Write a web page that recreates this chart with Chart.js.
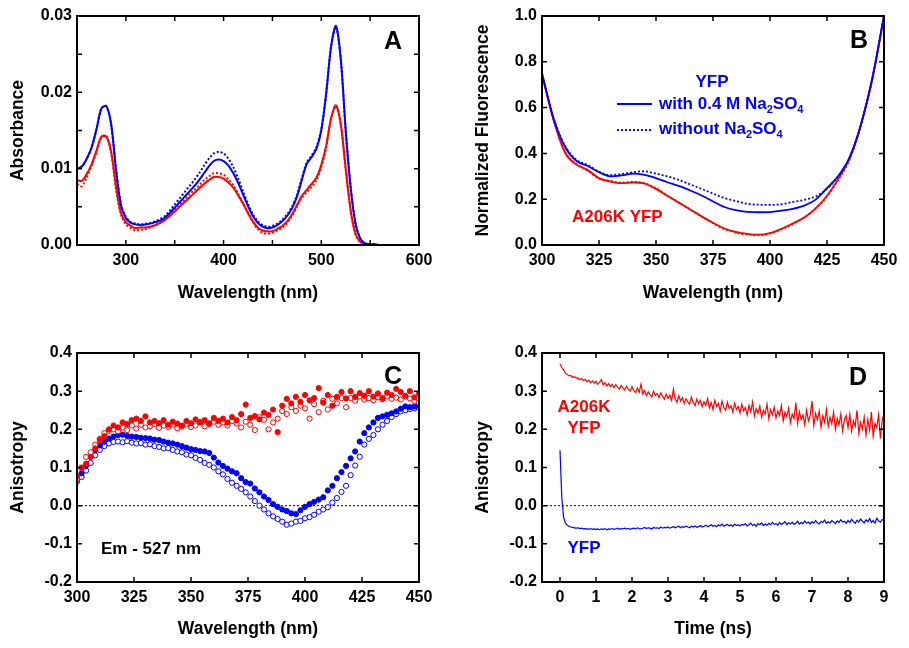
<!DOCTYPE html>
<html>
<head>
<meta charset="utf-8">
<script src="https://cdn.jsdelivr.net/npm/chart.js@4.4.0/dist/chart.umd.min.js"></script>
<style>
  body { margin: 0; background: #fff; }
  #wrap { position: relative; width: 909px; height: 648px; background: #fff; }
  canvas { position: absolute; }
</style>
</head>
<body>
<div id="wrap">
  <canvas id="chartA" width="460" height="310" style="left:0;top:0"></canvas>
  <canvas id="chartB" width="449" height="310" style="left:460px;top:0"></canvas>
  <canvas id="chartC" width="460" height="338" style="left:0;top:310px"></canvas>
  <canvas id="chartD" width="449" height="338" style="left:460px;top:310px"></canvas>
</div>
<script>
// ---- panel A: absorbance ----
const aWavelength = [250,255,260,265,270,275,280,285,290,295,300,305,310,315,320,325,330,335,340,345,
  350,355,360,365,370,375,380,385,390,395,400,405,410,415,420,425,430,435,440,445,
  450,455,460,465,470,475,480,485,490,495,500,505,510,515,520,525,530,535,540,545,
  550,555,560,565,570,575,580,585,590,595,600];
const aYfpSalt = [.0100,.0103,.0113,.0128,.0152,.0179,.0182,.0158,.0098,.0052,.0035,.0029,.0027,.0026,.0027,.0028,.0030,.0032,.0036,.0042,
  .0049,.0056,.0063,.0070,.0077,.0085,.0094,.0103,.0110,.0112,.0110,.0104,.0094,.0081,.0066,.0051,.0038,.0029,.0024,.0022,
  .0023,.0026,.0031,.0038,.0048,.0063,.0085,.0106,.0115,.0126,.0150,.0198,.0260,.0287,.0243,.0150,.0076,.0028,.0008,.0002,
  .0001,.0001,0,0,0,0,0,0,0,0,0];
const aYfp = [.0100,.0103,.0113,.0128,.0152,.0179,.0182,.0157,.0098,.0054,.0037,.0030,.0028,.0027,.0028,.0029,.0031,.0034,.0038,.0045,
  .0053,.0061,.0069,.0077,.0085,.0094,.0104,.0113,.0120,.0122,.0120,.0113,.0102,.0087,.0070,.0054,.0040,.0031,.0026,.0024,
  .0025,.0028,.0033,.0040,.0050,.0065,.0087,.0108,.0117,.0128,.0152,.0199,.0260,.0286,.0242,.0150,.0077,.0029,.0009,.0002,
  .0001,.0001,0,0,0,0,0,0,0,0,0];
const aA206kSalt = [.0085,.0084,.0093,.0106,.0124,.0142,.0142,.0122,.0076,.0042,.0030,.0025,.0022,.0023,.0023,.0024,.0026,.0029,.0033,.0038,
  .0044,.0050,.0056,.0062,.0068,.0074,.0080,.0085,.0089,.0089,.0087,.0082,.0075,.0065,.0054,.0042,.0031,.0023,.0019,.0018,
  .0018,.0021,.0025,.0031,.0040,.0052,.0064,.0072,.0080,.0088,.0105,.0130,.0166,.0183,.0158,.0100,.0046,.0015,.0004,.0001,
  0,0,0,0,0,0,0,0,0,0,0];
const aA206k = [.0080,.0077,.0089,.0104,.0122,.0141,.0143,.0120,.0072,.0040,.0027,.0022,.0019,.0020,.0021,.0023,.0026,.0029,.0034,.0040,
  .0046,.0053,.0059,.0066,.0072,.0078,.0085,.0090,.0094,.0094,.0092,.0086,.0078,.0067,.0055,.0042,.0030,.0021,.0016,.0015,
  .0016,.0019,.0023,.0029,.0038,.0050,.0062,.0069,.0076,.0085,.0102,.0128,.0165,.0182,.0157,.0099,.0045,.0014,.0003,.0001,
  0,0,0,0,0,0,0,0,0,0,0];
const aXTicks = [250,300,350,400,450,500,550,600];
const aXLabels = ['','300','','400','','500','','600'];
const aYTicks = [0,0.005,0.01,0.015,0.02,0.025,0.03];
const aYLabels = ['0.00','','0.01','','0.02','','0.03'];

// ---- panel B: normalized fluorescence ----
const bWavelength = [300,305,310,315,320,325,330,335,340,345,350,355,360,365,370,375,380,385,390,395,
  400,405,410,415,420,425,430,435,440,445,450];
const bYfpSalt = [0.750,0.555,0.430,0.368,0.345,0.318,0.300,0.304,0.312,0.306,0.292,0.274,0.258,0.238,0.216,0.190,0.166,0.152,0.145,0.143,
  0.144,0.150,0.158,0.172,0.198,0.248,0.302,0.385,0.530,0.735,1.000];
const bYfp = [0.750,0.558,0.435,0.372,0.350,0.320,0.305,0.310,0.318,0.322,0.312,0.300,0.284,0.265,0.245,0.225,0.205,0.192,0.180,0.176,
  0.175,0.178,0.188,0.197,0.212,0.245,0.302,0.385,0.530,0.735,1.000];
const bA206kSalt = [0.742,0.548,0.405,0.352,0.328,0.292,0.277,0.270,0.273,0.268,0.245,0.215,0.185,0.155,0.125,0.097,0.072,0.057,0.049,0.045,
  0.052,0.071,0.094,0.120,0.160,0.215,0.290,0.380,0.530,0.730,1.000];
const bA206k = [0.742,0.550,0.410,0.355,0.325,0.290,0.280,0.272,0.276,0.270,0.248,0.216,0.186,0.155,0.124,0.095,0.070,0.054,0.046,0.043,
  0.050,0.068,0.092,0.120,0.160,0.212,0.285,0.375,0.525,0.728,1.000];
const bXTicks = [300,325,350,375,400,425,450];
const bXLabels = ['300','325','350','375','400','425','450'];
const bYTicks = [0,0.2,0.4,0.6,0.8,1.0];
const bYLabels = ['0.0','0.2','0.4','0.6','0.8','1.0'];

// ---- panel C: excitation anisotropy ----
const cWavelength = [300,302,304,306,308,310,312,314,316,318,320,322,324,326,328,330,332,334,336,338,
  340,342,344,346,348,350,352,354,356,358,360,362,364,366,368,370,372,374,376,378,
  380,382,384,386,388,390,392,394,396,398,400,402,404,406,408,410,412,414,416,418,
  420,422,424,426,428,430,432,434,436,438,440,442,444,446,448,450];
const cYfpFilled = [0.068,0.085,0.105,0.128,0.145,0.158,0.168,0.176,0.181,0.185,0.186,0.183,0.181,0.180,0.178,0.177,0.176,0.173,0.172,0.168,
  0.165,0.163,0.160,0.156,0.152,0.148,0.146,0.143,0.142,0.138,0.126,0.113,0.104,0.097,0.090,0.085,0.072,0.062,0.058,0.045,
  0.035,0.024,0.015,0.004,-0.003,-0.010,-0.014,-0.020,-0.022,-0.012,-0.003,0.004,0.010,0.016,0.022,0.040,0.052,0.072,0.088,0.104,
  0.124,0.142,0.168,0.190,0.205,0.218,0.230,0.234,0.238,0.242,0.247,0.254,0.260,0.258,0.260,0.262];
const cYfpOpen = [0.063,0.075,0.092,0.112,0.132,0.146,0.156,0.163,0.167,0.168,0.166,0.169,0.165,0.163,0.164,0.160,0.161,0.156,0.154,0.150,
  0.151,0.146,0.142,0.140,0.134,0.132,0.125,0.120,0.112,0.107,0.100,0.090,0.082,0.070,0.060,0.052,0.044,0.035,0.024,0.012,
  0.000,-0.010,-0.020,-0.028,-0.035,-0.042,-0.050,-0.047,-0.042,-0.040,-0.033,-0.030,-0.024,-0.016,-0.010,-0.004,0.008,0.020,0.036,0.052,
  0.080,0.105,0.128,0.160,0.175,0.185,0.200,0.212,0.222,0.232,0.240,0.247,0.250,0.253,0.255,0.258];
const cA206kFilled = [0.076,0.100,0.110,0.128,0.150,0.172,0.182,0.200,0.210,0.205,0.218,0.214,0.224,0.228,0.222,0.234,0.218,0.222,0.216,0.224,
  0.212,0.220,0.215,0.210,0.222,0.216,0.226,0.219,0.224,0.216,0.230,0.222,0.228,0.218,0.232,0.224,0.240,0.265,0.230,0.235,
  0.226,0.244,0.238,0.252,0.193,0.262,0.280,0.268,0.285,0.272,0.290,0.276,0.282,0.308,0.270,0.290,0.262,0.285,0.298,0.281,
  0.300,0.285,0.295,0.288,0.300,0.286,0.294,0.282,0.296,0.290,0.306,0.298,0.288,0.300,0.284,0.294];
const cA206kOpen = [0.070,0.098,0.128,0.140,0.160,0.175,0.190,0.196,0.200,0.195,0.205,0.198,0.210,0.202,0.212,0.205,0.208,0.214,0.204,0.210,
  0.206,0.212,0.203,0.208,0.215,0.206,0.210,0.218,0.208,0.214,0.220,0.212,0.218,0.210,0.222,0.215,0.205,0.220,0.212,0.198,
  0.232,0.225,0.200,0.218,0.228,0.248,0.240,0.258,0.248,0.262,0.255,0.228,0.266,0.245,0.275,0.252,0.280,0.268,0.282,0.258,
  0.282,0.275,0.286,0.278,0.282,0.276,0.284,0.279,0.286,0.280,0.283,0.278,0.286,0.281,0.274,0.270];
const cXTicks = [300,325,350,375,400,425,450];
const cXLabels = ['300','325','350','375','400','425','450'];
const cYTicks = [-0.2,-0.1,0,0.1,0.2,0.3,0.4];
const cYLabels = ['-0.2','-0.1','0.0','0.1','0.2','0.3','0.4'];

// ---- panel D: time-resolved anisotropy (sampled every 0.05 ns) ----
const dTime = Array.from({ length: 181 }, (_, i) => +(i * 0.05).toFixed(2));
const dA206k = [
  0.372,0.362,0.355,0.348,0.344,0.340,0.341,0.336,0.338,0.334,0.335,0.330,0.333,0.328,0.331,0.325,0.329,0.322,0.327,0.321,
  0.326,0.318,0.323,0.330,0.316,0.322,0.314,0.320,0.312,0.318,0.309,0.317,0.311,0.306,0.315,0.308,0.303,0.313,0.305,0.300,
  0.312,0.301,0.296,0.308,0.297,0.318,0.293,0.302,0.288,0.298,0.291,0.285,0.300,0.289,0.294,0.283,0.296,0.286,0.279,0.292,
  0.281,0.290,0.276,0.305,0.279,0.271,0.288,0.274,0.283,0.268,0.280,0.272,0.266,0.285,0.270,0.262,0.279,0.267,0.276,0.259,
  0.272,0.263,0.281,0.256,0.270,0.252,0.276,0.260,0.268,0.248,0.274,0.258,0.250,0.271,0.255,0.262,0.245,0.268,0.252,0.260,
  0.243,0.266,0.248,0.257,0.238,0.263,0.246,0.272,0.235,0.254,0.242,0.261,0.232,0.250,0.240,0.266,0.228,0.252,0.238,0.258,
  0.230,0.248,0.236,0.262,0.222,0.245,0.233,0.255,0.218,0.240,0.228,0.270,0.215,0.246,0.226,0.238,0.212,0.250,0.222,0.236,
  0.274,0.210,0.242,0.225,0.248,0.205,0.236,0.218,0.252,0.208,0.232,0.215,0.245,0.200,0.228,0.212,0.240,0.196,0.225,0.236,
  0.205,0.240,0.195,0.222,0.208,0.250,0.190,0.218,0.200,0.232,0.185,0.226,0.198,0.245,0.182,0.215,0.205,0.238,0.176,0.222,
  0.244];
const dYfp = [
  0.145,0.020,-0.030,-0.045,-0.051,-0.054,-0.056,-0.057,-0.058,-0.059,-0.058,-0.060,-0.059,-0.061,-0.060,-0.061,-0.062,-0.060,-0.062,-0.061,
  -0.062,-0.061,-0.063,-0.061,-0.062,-0.060,-0.063,-0.061,-0.062,-0.060,-0.062,-0.061,-0.059,-0.062,-0.060,-0.061,-0.059,-0.061,-0.060,-0.062,
  -0.060,-0.059,-0.061,-0.058,-0.060,-0.061,-0.059,-0.057,-0.060,-0.058,-0.059,-0.061,-0.057,-0.059,-0.058,-0.060,-0.056,-0.059,-0.057,-0.058,
  -0.056,-0.059,-0.057,-0.055,-0.058,-0.056,-0.054,-0.058,-0.055,-0.057,-0.053,-0.056,-0.058,-0.054,-0.056,-0.053,-0.057,-0.055,-0.052,-0.056,
  -0.054,-0.051,-0.055,-0.053,-0.050,-0.054,-0.052,-0.055,-0.050,-0.053,-0.048,-0.054,-0.051,-0.049,-0.053,-0.050,-0.054,-0.048,-0.052,-0.050,
  -0.053,-0.049,-0.051,-0.047,-0.053,-0.050,-0.046,-0.052,-0.049,-0.054,-0.047,-0.050,-0.045,-0.052,-0.048,-0.051,-0.046,-0.050,-0.044,-0.049,
  -0.047,-0.051,-0.044,-0.049,-0.046,-0.042,-0.050,-0.045,-0.048,-0.043,-0.049,-0.046,-0.041,-0.048,-0.044,-0.047,-0.040,-0.046,-0.043,-0.048,
  -0.042,-0.046,-0.039,-0.045,-0.048,-0.041,-0.044,-0.038,-0.046,-0.042,-0.045,-0.039,-0.043,-0.047,-0.040,-0.044,-0.037,-0.043,-0.041,-0.046,
  -0.039,-0.044,-0.036,-0.042,-0.046,-0.038,-0.043,-0.035,-0.041,-0.045,-0.037,-0.042,-0.034,-0.044,-0.039,-0.046,-0.033,-0.040,-0.043,-0.036,
  -0.038];
const dXTicks = [0,1,2,3,4,5,6,7,8,9];
const dXLabels = ['0','1','2','3','4','5','6','7','8','9'];
const dYTicks = cYTicks;
const dYLabels = cYLabels;

const BLUE = '#0000ff';
const RED = '#ff0000';
const FONT = '"Liberation Sans", Arial, Helvetica, sans-serif';

// texts drawn inside each panel (canvas coordinates)
const notes = {
  chartA: [
    { text: 'A', x: 393, y: 42, size: 25, color: '#000', align: 'center' }
  ],
  chartB: [
    { text: 'B', x: 399, y: 41, size: 25, color: '#000', align: 'center' },
    { text: 'YFP', x: 252, y: 82, size: 17, color: BLUE, align: 'center' },
    { parts: [{ t: 'with 0.4 M Na' }, { t: '2', sub: true }, { t: 'SO' }, { t: '4', sub: true }], x: 199, y: 104, size: 17, color: BLUE },
    { parts: [{ t: 'without Na' }, { t: '2', sub: true }, { t: 'SO' }, { t: '4', sub: true }], x: 199, y: 129, size: 17, color: BLUE },
    { line: true, x1: 157, x2: 192, y: 104, color: BLUE, dash: [] },
    { line: true, x1: 157, x2: 192, y: 130, color: BLUE, dash: [2, 2] },
    { text: 'A206K YFP', x: 112, y: 217, size: 17, color: RED }
  ],
  chartC: [
    { text: 'C', x: 393, y: 67, size: 25, color: '#000', align: 'center' },
    { text: 'Em - 527 nm', x: 101, y: 239, size: 17, color: '#000' }
  ],
  chartD: [
    { text: 'D', x: 398, y: 68, size: 25, color: '#000', align: 'center' },
    { text: 'A206K', x: 124, y: 97, size: 17, color: RED, align: 'center' },
    { text: 'YFP', x: 124, y: 118, size: 17, color: RED, align: 'center' },
    { text: 'YFP', x: 124, y: 238, size: 17, color: BLUE, align: 'center' }
  ]
};

function drawNote(ctx, n) {
  if (n.line) {
    ctx.strokeStyle = n.color;
    ctx.lineWidth = 2;
    ctx.setLineDash(n.dash);
    ctx.beginPath();
    ctx.moveTo(n.x1, n.y);
    ctx.lineTo(n.x2, n.y);
    ctx.stroke();
    ctx.setLineDash([]);
    return;
  }
  const parts = n.parts || [{ t: n.text }];
  const fontOf = p => 'bold ' + (p.sub ? Math.round(n.size * 0.65) : n.size) + 'px ' + FONT;
  let w = 0;
  parts.forEach(p => { ctx.font = fontOf(p); w += ctx.measureText(p.t).width; });
  let x = n.align === 'center' ? n.x - w / 2 : n.x;
  ctx.fillStyle = n.color;
  ctx.textAlign = 'left';
  ctx.textBaseline = 'middle';
  parts.forEach(p => {
    ctx.font = fontOf(p);
    ctx.fillText(p.t, x, p.sub ? n.y + n.size * 0.33 : n.y);
    x += ctx.measureText(p.t).width;
  });
}

// frame with inward ticks on all four sides + panel texts
const framePlugin = {
  id: 'frame',
  afterDraw(chart) {
    const { ctx, chartArea: a, scales: { x, y } } = chart;
    const len = 5;
    ctx.save();
    ctx.strokeStyle = '#000';
    ctx.lineWidth = 1.5;
    ctx.beginPath();
    x.ticks.forEach(t => {
      const p = x.getPixelForValue(t.value);
      ctx.moveTo(p, a.bottom); ctx.lineTo(p, a.bottom - len);
      ctx.moveTo(p, a.top); ctx.lineTo(p, a.top + len);
    });
    y.ticks.forEach(t => {
      const p = y.getPixelForValue(t.value);
      ctx.moveTo(a.left, p); ctx.lineTo(a.left + len, p);
      ctx.moveTo(a.right, p); ctx.lineTo(a.right - len, p);
    });
    ctx.stroke();
    ctx.lineWidth = 2;
    ctx.strokeRect(a.left, a.top, a.right - a.left, a.bottom - a.top);
    (notes[chart.canvas.id] || []).forEach(n => drawNote(ctx, n));
    ctx.restore();
  }
};

const pts = (xs, ys) => xs.map((v, i) => ({ x: v, y: ys[i] }));

// smooth: 'monotone', a tension number, or false
function curve(xs, ys, color, dotted, width, smooth) {
  return {
    data: pts(xs, ys),
    showLine: true,
    borderColor: color,
    borderWidth: width,
    borderDash: dotted ? [2, 2] : [],
    pointRadius: 0,
    cubicInterpolationMode: smooth === 'monotone' ? 'monotone' : 'default',
    tension: typeof smooth === 'number' ? smooth : 0
  };
}

function dots(xs, ys, color, open) {
  return {
    data: pts(xs, ys),
    showLine: false,
    pointRadius: 2.6,
    pointBorderWidth: 1,
    pointBorderColor: color,
    pointBackgroundColor: open ? '#fff' : color
  };
}

function zeroLine(xMin, xMax) {
  return {
    data: [{ x: xMin, y: 0 }, { x: xMax, y: 0 }],
    showLine: true,
    borderColor: '#000',
    borderWidth: 1,
    borderDash: [2, 2],
    pointRadius: 0
  };
}

function makeChart(id, cfg) {
  const canvas = document.getElementById(id);
  const W = canvas.width, H = canvas.height, a = cfg.area;
  const tickFont = { family: FONT, size: 16, weight: 'bold' };
  const titleFont = { family: FONT, size: 17.5, weight: 'bold' };
  return new Chart(canvas, {
    type: 'scatter',
    data: { datasets: cfg.datasets },
    options: {
      responsive: false,
      animation: false,
      devicePixelRatio: 1,
      layout: { padding: { top: a.top, right: W - a.right, left: 0, bottom: 0 } },
      plugins: { legend: { display: false }, tooltip: { enabled: false } },
      scales: {
        x: {
          type: 'linear',
          min: cfg.xMin, max: cfg.xMax,
          afterFit: s => { s.height = H - a.bottom; },
          afterBuildTicks: s => { s.ticks = cfg.xTicks.map(v => ({ value: v })); },
          ticks: { callback: (v, i) => cfg.xLabels[i], autoSkip: false, maxRotation: 0, padding: 6, color: '#000', font: tickFont },
          grid: { display: false, drawTicks: false },
          border: { display: false },
          title: { display: true, text: cfg.xTitle, color: '#000', font: titleFont, padding: { top: 0, bottom: H - cfg.xTitleY - 10.5 } }
        },
        y: {
          type: 'linear',
          min: cfg.yMin, max: cfg.yMax,
          afterFit: s => { s.width = a.left; },
          afterBuildTicks: s => { s.ticks = cfg.yTicks.map(v => ({ value: v })); },
          ticks: { callback: (v, i) => cfg.yLabels[i], autoSkip: false, padding: 5, color: '#000', font: tickFont },
          grid: { display: false, drawTicks: false },
          border: { display: false },
          title: { display: true, text: cfg.yTitle, color: '#000', font: titleFont, padding: { top: cfg.yTitleX - 10.5, bottom: 0 } }
        }
      }
    },
    plugins: [framePlugin]
  });
}

makeChart('chartA', {
  area: { left: 77, top: 16, right: 419, bottom: 245 },
  xMin: 250, xMax: 600, yMin: 0, yMax: 0.03,
  xTicks: aXTicks, xLabels: aXLabels, yTicks: aYTicks, yLabels: aYLabels,
  xTitle: 'Wavelength (nm)', xTitleY: 293, yTitle: 'Absorbance', yTitleX: 18,
  datasets: [
    curve(aWavelength, aYfpSalt, BLUE, false, 2, 0.3),
    curve(aWavelength, aYfp, BLUE, true, 2, 0.3),
    curve(aWavelength, aA206kSalt, RED, false, 2, 0.3),
    curve(aWavelength, aA206k, RED, true, 2, 0.3)
  ]
});

makeChart('chartB', {
  area: { left: 82, top: 16, right: 424, bottom: 245 },
  xMin: 300, xMax: 450, yMin: 0, yMax: 1.0,
  xTicks: bXTicks, xLabels: bXLabels, yTicks: bYTicks, yLabels: bYLabels,
  xTitle: 'Wavelength (nm)', xTitleY: 293, yTitle: 'Normalized Fluorescence', yTitleX: 23,
  datasets: [
    curve(bWavelength, bYfpSalt, BLUE, false, 1.8, 'monotone'),
    curve(bWavelength, bYfp, BLUE, true, 1.8, 'monotone'),
    curve(bWavelength, bA206kSalt, RED, false, 1.8, 'monotone'),
    curve(bWavelength, bA206k, RED, true, 1.8, 'monotone')
  ]
});

makeChart('chartC', {
  area: { left: 77, top: 43, right: 419, bottom: 272 },
  xMin: 300, xMax: 450, yMin: -0.2, yMax: 0.4,
  xTicks: cXTicks, xLabels: cXLabels, yTicks: cYTicks, yLabels: cYLabels,
  xTitle: 'Wavelength (nm)', xTitleY: 319, yTitle: 'Anisotropy', yTitleX: 18,
  datasets: [
    dots(cWavelength, cA206kFilled, RED, false),
    dots(cWavelength, cA206kOpen, RED, true),
    dots(cWavelength, cYfpFilled, BLUE, false),
    dots(cWavelength, cYfpOpen, BLUE, true),
    zeroLine(300, 450)
  ]
});

makeChart('chartD', {
  area: { left: 82, top: 43, right: 424, bottom: 272 },
  xMin: -0.5, xMax: 9, yMin: -0.2, yMax: 0.4,
  xTicks: dXTicks, xLabels: dXLabels, yTicks: dYTicks, yLabels: dYLabels,
  xTitle: 'Time (ns)', xTitleY: 319, yTitle: 'Anisotropy', yTitleX: 23,
  datasets: [
    curve(dTime, dA206k, RED, false, 1.2, false),
    curve(dTime, dYfp, BLUE, false, 1.2, false),
    zeroLine(-0.5, 9)
  ]
});
</script>
</body>
</html>
